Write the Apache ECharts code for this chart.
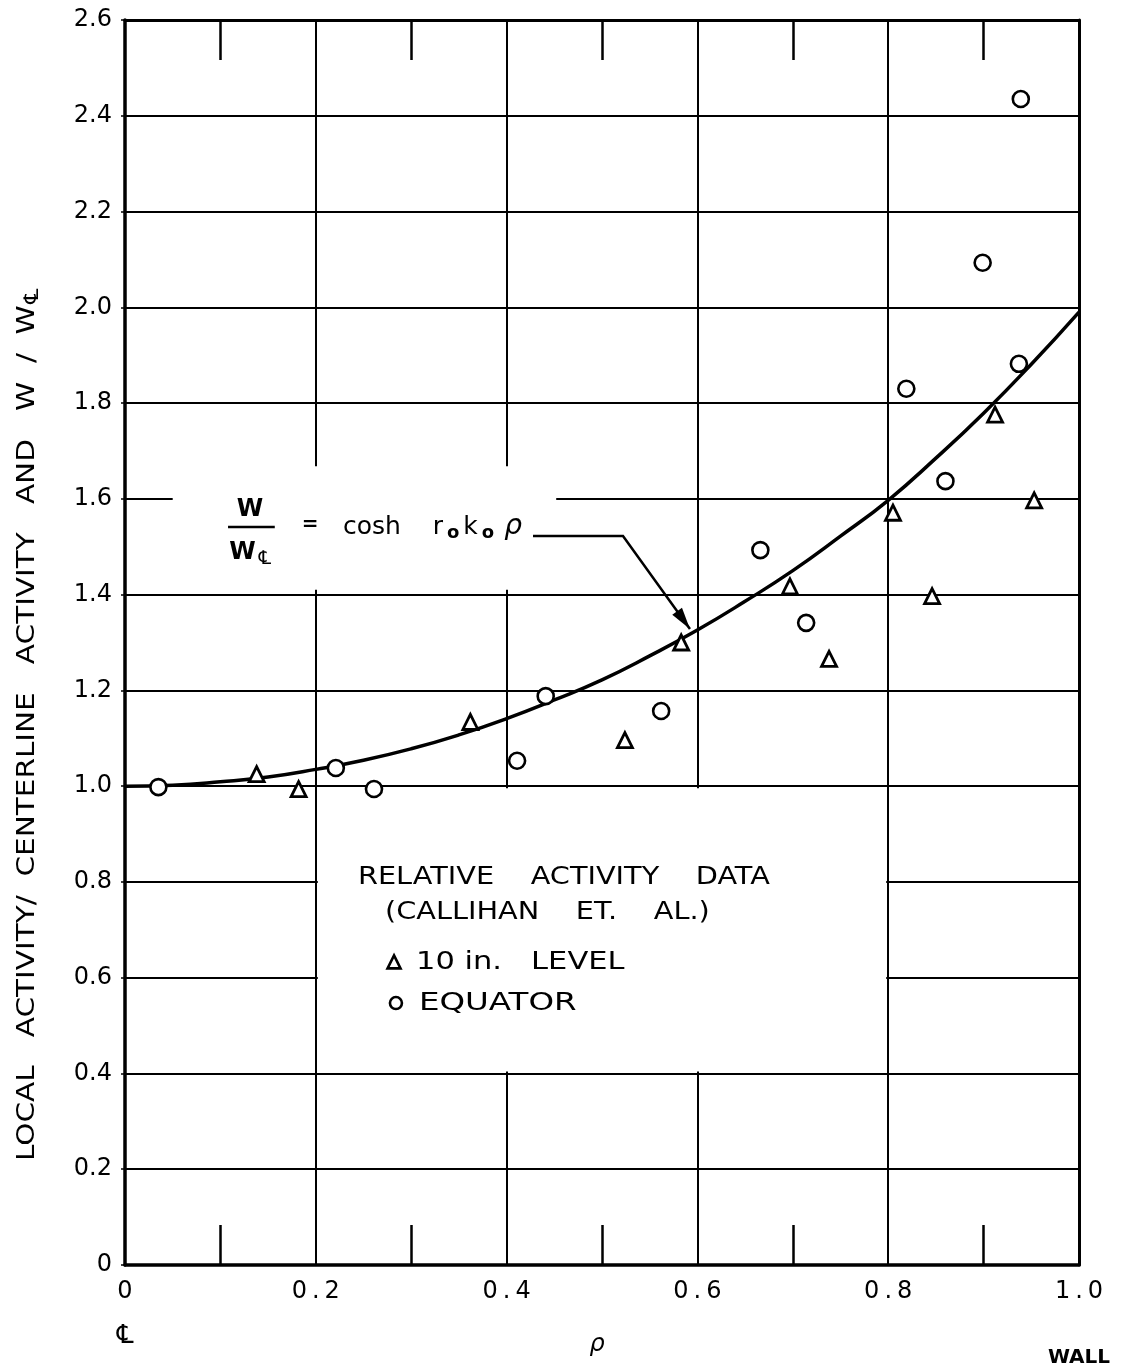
<!DOCTYPE html>
<html><head><meta charset="utf-8">
<script src="https://cdn.jsdelivr.net/npm/echarts@6/dist/echarts.min.js"></script>
<style>html,body{margin:0;padding:0;background:#fff}#c{width:1125px;height:1369px}</style>
</head><body><div id="c"></div>
<script>
// ---- data ----
const xTickValues = [0, 0.2, 0.4, 0.6, 0.8, 1.0];
const yTickValues = [0, 0.2, 0.4, 0.6, 0.8, 1.0, 1.2, 1.4, 1.6, 1.8, 2.0, 2.2, 2.4, 2.6];

// 10 in. LEVEL (triangles)
const levelRho = [0.138, 0.182, 0.362, 0.524, 0.583, 0.697, 0.738, 0.805, 0.846, 0.912, 0.953];
const levelAct = [1.025, 0.994, 1.134, 1.096, 1.300, 1.417, 1.266, 1.571, 1.397, 1.776, 1.597];

// EQUATOR (circles)
const equatorRho = [0.035, 0.221, 0.261, 0.411, 0.441, 0.562, 0.666, 0.714, 0.819, 0.860, 0.899, 0.937, 0.939];
const equatorAct = [0.998, 1.038, 0.994, 1.053, 1.188, 1.157, 1.493, 1.341, 1.830, 1.637, 2.093, 1.882, 2.435];

// drawn curve W / W_CL = cosh r0 k0 rho
const curveRho = [0, 0.05, 0.1, 0.15, 0.2, 0.25, 0.3, 0.35, 0.4, 0.45, 0.5, 0.55, 0.6, 0.65, 0.7, 0.75, 0.8, 0.85, 0.9, 0.95, 1.0];
const curveW   = [1.000, 1.002, 1.009, 1.019, 1.035, 1.054, 1.078, 1.107, 1.141, 1.180, 1.222, 1.272, 1.326, 1.386, 1.450, 1.522, 1.597, 1.685, 1.779, 1.881, 1.990];

const seriesNames = ['10 in. LEVEL', 'EQUATOR'];
const yTitle = 'LOCAL   ACTIVITY/  CENTERLINE   ACTIVITY   AND   W  /  W';
const boxTitle = ['RELATIVE    ACTIVITY    DATA', '(CALLIHAN    ET.    AL.)'];
const legendLabels = ['10 in.   LEVEL', 'EQUATOR'];
const CL = '\u2104';

// ---- chart ----
const FONT = 'DejaVu Sans';
const chart = echarts.init(document.getElementById('c'), null, {renderer: 'canvas'});

function xLabel(v) {
  const r = Math.round(v * 10) / 10;
  if (r === 0) return '{d|0}\n{cl|' + CL + '}';
  const s = r.toFixed(1).split('.');
  let t = '{d|' + s[0] + '}{p|.}{d|' + s[1] + '}';
  if (r === 1) t += '\n{w|WALL}';
  return t;
}

const blackLine = {color: '#000', width: 2};

const option = {
  animation: false,
  backgroundColor: '#fff',
  textStyle: {fontFamily: FONT, color: '#000'},
  grid: {left: 125, right: 46, top: 20, bottom: 104, containLabel: false, outerBoundsMode: 'none'},
  xAxis: [{
    type: 'value', min: 0, max: 1.0, interval: 0.2, position: 'bottom',
    axisLine: {show: true, onZero: false, lineStyle: {color: '#000', width: 3.5}},
    axisTick: {show: false, inside: true},
    minorTick: {show: true, splitNumber: 2, length: 40, lineStyle: {color: '#000', width: 2.5}},
    splitLine: {show: true, lineStyle: blackLine},
    axisLabel: {
      margin: 14, color: '#000', fontFamily: FONT, fontSize: 24,
      formatter: xLabel,
      rich: {
        d: {fontSize: 24, fontFamily: FONT, color: '#000', lineHeight: 26},
        p: {fontSize: 24, fontFamily: FONT, color: '#000', lineHeight: 26, padding: [0, 5, 0, 5]},
        cl: {fontSize: 26, fontFamily: FONT, color: '#000', lineHeight: 62},
        w: {fontSize: 20, fontWeight: 'bold', fontFamily: FONT, color: '#000', lineHeight: 106}
      }
    }
  }, {
    type: 'value', min: 0, max: 1.0, interval: 0.2, position: 'top',
    axisLine: {show: true, onZero: false, lineStyle: {color: '#000', width: 3}},
    axisTick: {show: false, inside: true},
    minorTick: {show: true, splitNumber: 2, length: 40, lineStyle: {color: '#000', width: 2.5}},
    splitLine: {show: false},
    axisLabel: {show: false}
  }],
  yAxis: [{
    type: 'value', min: 0, max: 2.6, interval: 0.2, position: 'left',
    axisLine: {show: true, onZero: false, lineStyle: {color: '#000', width: 3.5}},
    axisTick: {show: true, length: 4, lineStyle: {color: '#000', width: 1.5}},
    splitLine: {show: true, lineStyle: blackLine},
    axisLabel: {
      margin: 13, color: '#000', fontFamily: FONT, fontSize: 24,
      formatter: v => (Math.abs(v) < 1e-9 ? '0' : v.toFixed(1))
    }
  }, {
    type: 'value', min: 0, max: 2.6, interval: 0.2, position: 'right',
    axisLine: {show: true, onZero: false, lineStyle: {color: '#000', width: 3}},
    axisTick: {show: false}, splitLine: {show: false}, axisLabel: {show: false}
  }],
  series: [{
    type: 'line', name: 'cosh', data: curveRho.map((r, i) => [r, curveW[i]]),
    smooth: true, showSymbol: false, symbol: 'none', silent: true, z: 3,
    lineStyle: {color: '#000', width: 3.5}
  }, {
    type: 'scatter', name: seriesNames[0], data: levelRho.map((r, i) => [r, levelAct[i]]),
    symbol: 'triangle', symbolSize: 15, z: 5,
    itemStyle: {color: '#fff', borderColor: '#000', borderWidth: 2.8, opacity: 1}
  }, {
    type: 'scatter', name: seriesNames[1], data: equatorRho.map((r, i) => [r, equatorAct[i]]),
    symbol: 'circle', symbolSize: 16, z: 5,
    itemStyle: {color: '#fff', borderColor: '#000', borderWidth: 2.6, opacity: 1}
  }]
};
chart.setOption(option);

// ---- annotations (layout in data units, converted through the axes) ----
const P = (x, y) => chart.convertToPixel({xAxisIndex: 0, yAxisIndex: 0}, [x, y]);
const els = [];
const txt = (x, y, text, size, extra) => Object.assign({type: 'text', z: 10, x: x, y: y,
  style: {text: text, font: size + 'px ' + FONT, fill: '#000', align: 'left', verticalAlign: 'middle'}}, extra || {});

// blank area for legend box (grid lines interrupted)
const b0 = P(0.2, 1.0), b1 = P(0.8, 0.4);
els.push({type: 'rect', z: 1, silent: true,
  shape: {x: b0[0] + 2, y: b0[1] + 2, width: b1[0] - b0[0] - 4, height: b1[1] - b0[1] - 4},
  style: {fill: '#fff'}});
// blank area behind formula
const a0 = P(0.05, 1.668), a1 = P(0.452, 1.41);
els.push({type: 'rect', z: 1, silent: true,
  shape: {x: a0[0], y: a0[1], width: a1[0] - a0[0], height: a1[1] - a0[1]},
  style: {fill: '#fff'}});

// box title
const t1 = P(0.2442, 0.810), t2 = P(0.2725, 0.737);
els.push(txt(t1[0], t1[1], boxTitle[0], 25, {scaleX: 1.15}));
els.push(txt(t2[0], t2[1], boxTitle[1], 25, {scaleX: 1.15}));

// legend entries
const k1 = P(0.282, 0.632), k2 = P(0.284, 0.547);
els.push({type: 'polygon', z: 10, silent: true,
  shape: {points: [[k1[0], k1[1] - 7], [k1[0] + 6.5, k1[1] + 6], [k1[0] - 6.5, k1[1] + 6]]},
  style: {fill: '#fff', stroke: '#000', lineWidth: 2.6}});
els.push(txt(k1[0] + 22, k1[1], legendLabels[0], 25, {scaleX: 1.22}));
els.push({type: 'circle', z: 10, silent: true, shape: {cx: k2[0], cy: k2[1], r: 6}, style: {fill: '#fff', stroke: '#000', lineWidth: 2.6}});
els.push(txt(k2[0] + 23, k2[1], legendLabels[1], 25, {scaleX: 1.3}));

// formula W / W_CL = cosh r0 k0 rho
const fW = P(0.131, 1.577), fBarL = P(0.108, 1.541), fBarR = P(0.157, 1.541), fW2 = P(0.131, 1.487);
const fEq = P(0.194, 1.545), fCosh = P(0.2285, 1.541);
els.push({type: 'text', z: 10, x: fW[0], y: fW[1], style: {text: 'W', font: 'bold 24px ' + FONT, fill: '#000', align: 'center', verticalAlign: 'middle'}});
els.push({type: 'line', z: 10, silent: true, shape: {x1: fBarL[0], y1: fBarL[1], x2: fBarR[0], y2: fBarR[1]}, style: {stroke: '#000', lineWidth: 2.5}});
els.push({type: 'text', z: 10, x: fW2[0], y: fW2[1], style: {
  text: '{a|W}{b|' + CL + '}', align: 'center', verticalAlign: 'middle',
  rich: {a: {fontSize: 24, fontWeight: 'bold', fontFamily: FONT, fill: '#000'}, b: {fontSize: 19, fontFamily: FONT, fill: '#000', padding: [12, 0, 0, 3]}}}});
els.push({type: 'text', z: 10, x: fEq[0], y: fEq[1], style: {text: '=', font: 'bold 20px ' + FONT, fill: '#000', align: 'center', verticalAlign: 'middle'}});
els.push({type: 'text', z: 10, x: fCosh[0], y: fCosh[1], style: {
  text: '{a|cosh    r}{s|o}{a|k}{s|o}{r|\u03C1}', align: 'left', verticalAlign: 'middle',
  rich: {a: {fontSize: 25, fontFamily: FONT, fill: '#000'},
         s: {fontSize: 18, fontWeight: 'bold', fontFamily: FONT, fill: '#000', padding: [12, 4, 0, 4]},
         r: {fontSize: 28, fontStyle: 'italic', fontFamily: FONT, fill: '#000', padding: [0, 0, 0, 6]}}}});

// leader + arrow
const L0 = P(0.4277, 1.5226), L1 = P(0.522, 1.5226), L2 = P(0.5922, 1.328);
els.push({type: 'polyline', z: 10, silent: true, shape: {points: [L0, L1, L2]}, style: {stroke: '#000', lineWidth: 2.5, fill: null}});
(function () {
  const dx = L2[0] - L1[0], dy = L2[1] - L1[1], len = Math.hypot(dx, dy);
  const ux = dx / len, uy = dy / len, hl = 22, hw = 6;
  const bx = L2[0] - ux * hl, by = L2[1] - uy * hl;
  els.push({type: 'polygon', z: 10, silent: true, shape: {points: [[L2[0], L2[1]], [bx - uy * hw, by + ux * hw], [bx + uy * hw, by - ux * hw]]}, style: {fill: '#000'}});
})();

// y title
const gBot = P(0, 0)[1];
els.push({type: 'text', z: 10, x: 27, y: 725, rotation: Math.PI / 2, scaleX: 1.18, style: {
  text: '{t|' + yTitle + '}{s|' + CL + '}', align: 'center', verticalAlign: 'middle',
  rich: {t: {fontSize: 25, fontFamily: FONT, fill: '#000'}, s: {fontSize: 20, fontFamily: FONT, fill: '#000', padding: [12, 0, 0, 1]}}}});

// x axis variable name rho
const rx = P(0.495, 0);
els.push({type: 'text', z: 10, x: rx[0], y: gBot + 80, style: {text: '\u03C1', font: 'italic 24px ' + FONT, fill: '#000', align: 'center', verticalAlign: 'middle'}});

chart.setOption({graphic: {elements: els}});
</script>
</body></html>
